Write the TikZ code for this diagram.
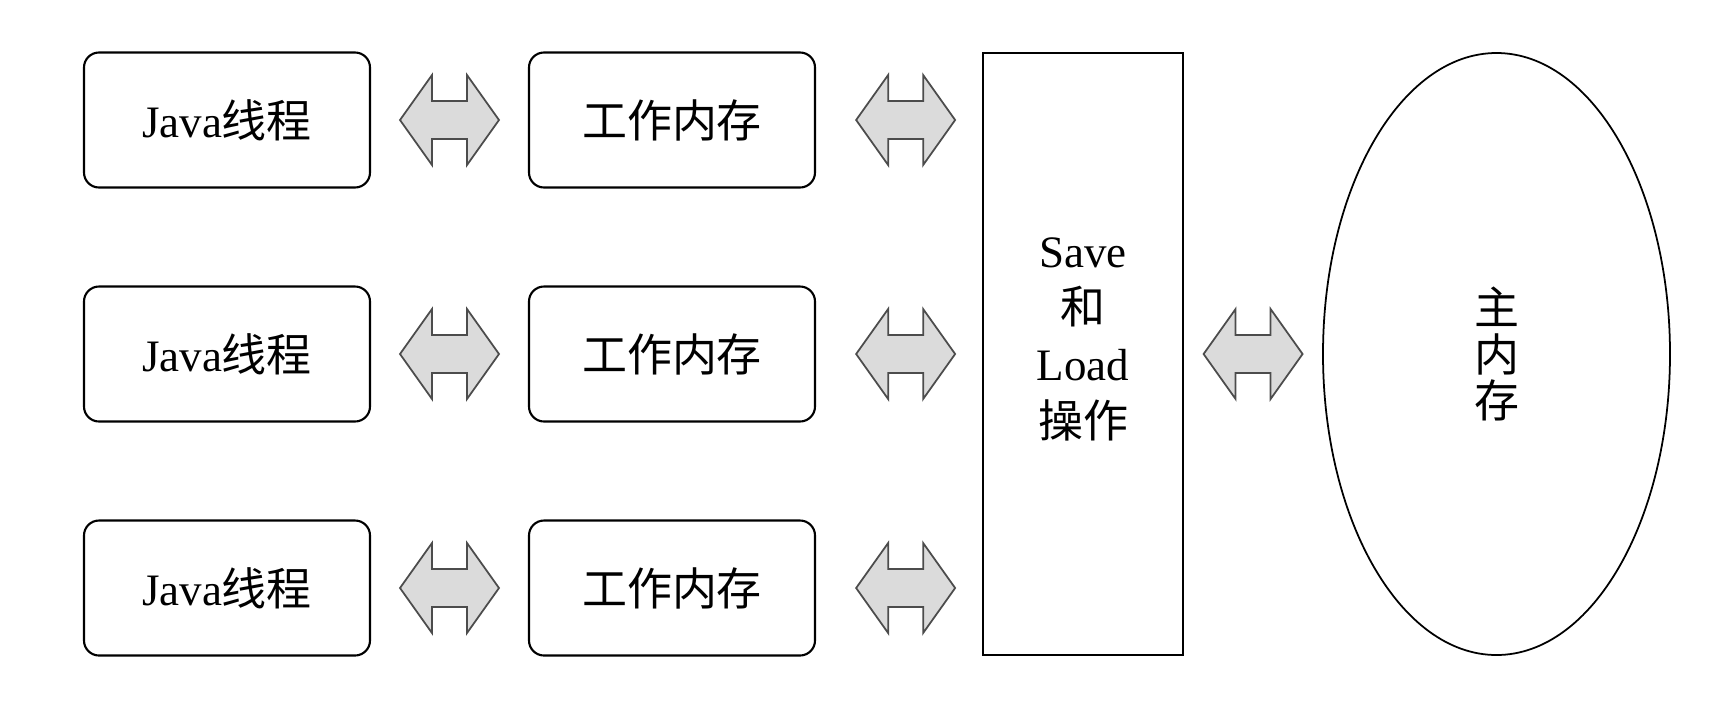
\documentclass[tikz,border=0pt]{standalone}
\usepackage{fontspec}
\setmainfont{Liberation Serif}
\newfontfamily\cjk{Noto Sans CJK SC}
\usetikzlibrary{shapes.geometric,calc}

\tikzset{
  bothway/.pic={
    \draw[arrowfill] (-0.495,0) -- (-0.175,0.45) -- (-0.175,0.19) -- (0.175,0.19)
      -- (0.175,0.45) -- (0.495,0) -- (0.175,-0.45) -- (0.175,-0.19)
      -- (-0.175,-0.19) -- (-0.175,-0.45) -- cycle;
  }
}

\begin{document}
\begin{tikzpicture}[
  box/.style={draw, line width=0.6pt, rounded corners=0.15cm,
    minimum width=2.86cm, minimum height=1.35cm,
    font=\fontsize{12.8}{15}\selectfont},
  arrowfill/.style={draw=black!70, fill=black!14, line width=0.5pt, line join=miter}]
  \useasboundingbox (0,0) rectangle (17.26,7);

  \foreach \y/\n in {5.80/1, 3.46/2, 1.12/3} {
    \node[box] (java\n) at (2.27,\y) {Java{\cjk 线程}};
    \node[box] (work\n) at (6.72,\y) {{\cjk 工作内存}};
  }

  \node[draw, line width=0.6pt, minimum width=2cm, minimum height=6.02cm,
    align=center, text depth=0.33cm, font=\fontsize{12.8}{16.2}\selectfont]
    (saveload) at (10.83,3.46) {Save\\{\cjk 和}\\Load\\{\cjk 操作}};
  \node[draw, ellipse, line width=0.5pt, minimum width=3.47cm, minimum height=6.02cm,
    align=center, font=\fontsize{12.8}{13.2}\selectfont\cjk]
    (mainmem) at (14.965,3.46) {主\\内\\存};

  \foreach \n in {1,2,3} {
    \pic at ($(java\n.east)!0.5!(work\n.west)$) {bothway};
    \pic at ($(work\n.east)!0.54!(work\n.east -| saveload.west)$) {bothway};
  }
  \pic at ($(saveload.east)!0.5!(mainmem.west)$) {bothway};
\end{tikzpicture}
\end{document}
